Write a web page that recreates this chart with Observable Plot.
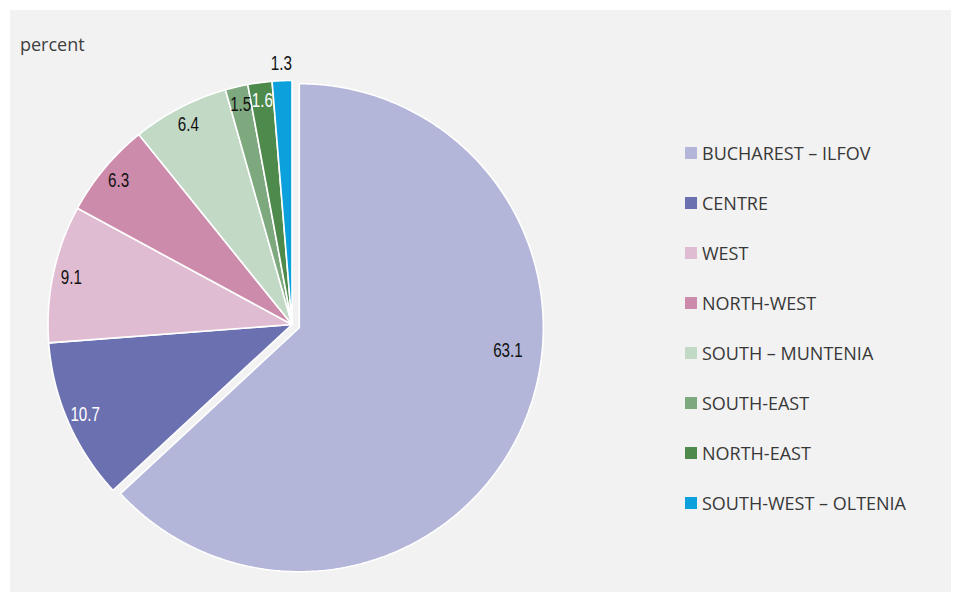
<!DOCTYPE html>
<html>
<head>
<meta charset="utf-8">
<script src="https://cdn.jsdelivr.net/npm/d3@7"></script>
<script src="https://cdn.jsdelivr.net/npm/@observablehq/plot@0.6"></script>
<style>
  html, body { margin: 0; padding: 0; background: #ffffff; }
  #frame { position: absolute; left: 10px; top: 10px; width: 941px; height: 582px; background: #f2f2f2; overflow: hidden; }
  #chart { position: absolute; left: 0; top: 0; }
  #unit { position: absolute; left: 10px; top: 23px; font-family: "Open Sans", sans-serif; font-size: 18px; color: #404040; line-height: 22px; }
  #legend { position: absolute; left: 675px; top: 118px; font-family: "Open Sans", sans-serif; font-size: 18px; color: #383838; }
  .item { height: 50px; display: flex; align-items: center; }
  .sw { width: 12px; height: 12px; margin-right: 5px; flex: none; }
</style>
</head>
<body>
<div id="frame">
  <div id="chart"></div>
  <div id="unit">percent</div>
  <div id="legend"></div>
</div>
<script>
// ---- data ----
const regions = ["BUCHAREST – ILFOV", "CENTRE", "WEST", "NORTH-WEST", "SOUTH – MUNTENIA", "SOUTH-EAST", "NORTH-EAST", "SOUTH-WEST – OLTENIA"];
const shares = [63.1, 10.7, 9.1, 6.3, 6.4, 1.5, 1.6, 1.3];
const labels = ["63.1", "10.7", "9.1", "6.3", "6.4", "1.5", "1.6", "1.3"];
const colors = ["#b3b6d8", "#6b70b0", "#e0bcd2", "#cd8bac", "#c1d9c5", "#7ea97f", "#4e8a4c", "#0ca0dc"];
const unitLabel = "percent";

// ---- layout ----
const W = 941, H = 582;
const cx = 281.5, cy = 314, R = 244;        // pie centre / radius in px
const explode = 8 / R;                      // offset of first slice (units of radius)
const insideFrac = 0.925, outsideFrac = 1.07;
const outsideLabels = new Set(["SOUTH-WEST – OLTENIA"]);
const lightLabels = new Set(["CENTRE", "NORTH-EAST"]);
const firstLabel = {angle: 96.3, frac: 0.86}; // best-fit position of the big slice label
const condense = 0.74;                       // horizontal squeeze of slice labels

document.getElementById("unit").textContent = unitLabel;

// ---- geometry from values ----
const total = d3.sum(shares);
const rad = Math.PI / 180;
const slicePts = [];
const labelPts = [];
let acc = 0;
regions.forEach((reg, i) => {
  const a0 = acc / total * 360, a1 = (acc + shares[i]) / total * 360;
  acc += shares[i];
  const mid = (a0 + a1) / 2;
  const ox = i === 0 ? explode * Math.sin(mid * rad) : 0;
  const oy = i === 0 ? explode * Math.cos(mid * rad) : 0;
  slicePts.push({region: reg, x: ox, y: oy});
  const n = Math.max(2, Math.ceil((a1 - a0) / 0.5));
  for (let k = 0; k <= n; k++) {
    const a = (a0 + (a1 - a0) * k / n) * rad;
    slicePts.push({region: reg, x: ox + Math.sin(a), y: oy + Math.cos(a)});
  }
  slicePts.push({region: reg, x: ox, y: oy});
  let la = mid, lf = outsideLabels.has(reg) ? outsideFrac : insideFrac;
  if (i === 0) { la = firstLabel.angle; lf = firstLabel.frac; }
  labelPts.push({
    region: reg, text: labels[i],
    x: ox + lf * Math.sin(la * rad), y: oy + lf * Math.cos(la * rad),
    light: lightLabels.has(reg)
  });
});

const chart = Plot.plot({
  width: W, height: H,
  marginTop: 0, marginRight: 0, marginBottom: 0, marginLeft: 0,
  style: {background: "transparent", overflow: "visible"},
  x: {domain: [-1, 1], range: [cx - R, cx + R], axis: null},
  y: {domain: [-1, 1], range: [cy + R, cy - R], axis: null},
  color: {domain: regions, range: colors},
  marks: [
    Plot.line(slicePts, {x: "x", y: "y", z: "region", fill: "region", stroke: "#ffffff", strokeWidth: 1.6, strokeLinejoin: "miter", curve: "linear"}),
    Plot.text(labelPts, {
      x: "x", y: "y", text: "text",
      fill: d => d.light ? "#ffffff" : "#111111",
      fontFamily: "'Liberation Sans', Arial, sans-serif",
      fontSize: 20.5, textAnchor: "middle", lineAnchor: "middle",
      className: "slice-label"
    })
  ]
});
document.getElementById("chart").appendChild(chart);

// condense the slice labels (narrow face look)
d3.select(chart).selectAll(".slice-label text").each(function() {
  const len = this.getComputedTextLength();
  this.setAttribute("textLength", (len * condense).toFixed(2));
  this.setAttribute("lengthAdjust", "spacingAndGlyphs");
});

// ---- legend ----
const legend = document.getElementById("legend");
regions.forEach((reg, i) => {
  const item = document.createElement("div");
  item.className = "item";
  const sw = document.createElement("span");
  sw.className = "sw";
  sw.style.background = colors[i];
  const t = document.createElement("span");
  t.textContent = reg;
  item.appendChild(sw);
  item.appendChild(t);
  legend.appendChild(item);
});
</script>
</body>
</html>
